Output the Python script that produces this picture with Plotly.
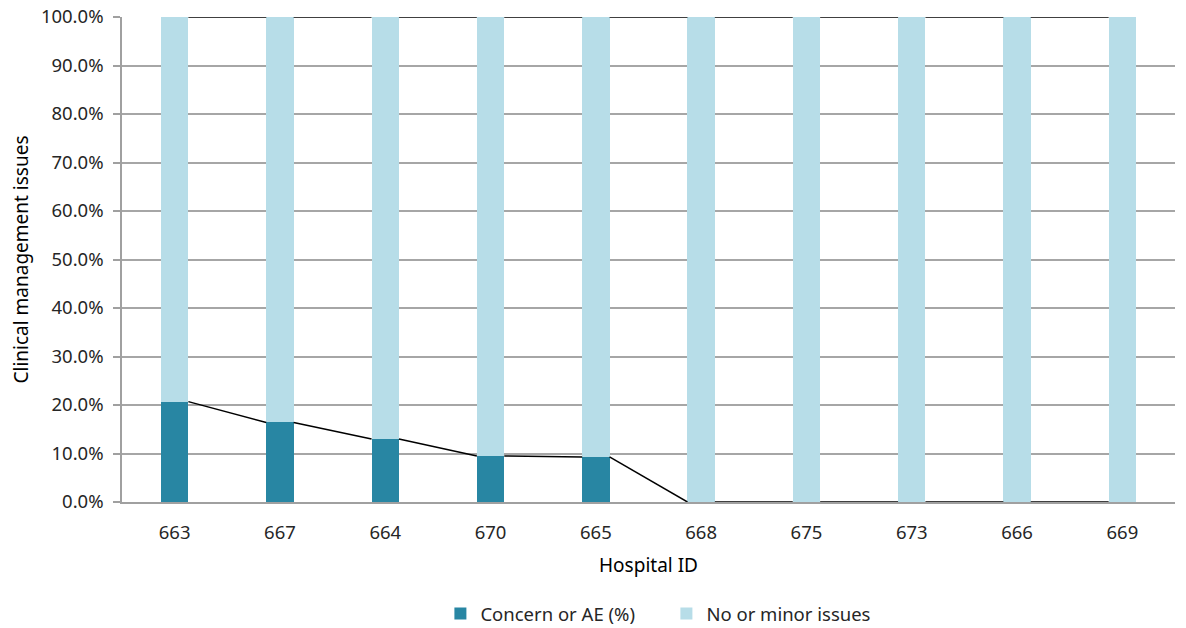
import plotly.graph_objects as go

hospitals = ["663", "667", "664", "670", "665", "668", "675", "673", "666", "669"]
concern = [0.207, 0.164, 0.130, 0.095, 0.093, 0.0, 0.0, 0.0, 0.0, 0.0]
no_minor = [1 - c for c in concern]

dark = "#2886A3"
light = "#B7DDE8"
bar_w = 0.26
font = "Noto Sans, Open Sans, sans-serif"

xs = list(range(len(hospitals)))

fig = go.Figure()
fig.add_bar(x=xs, y=concern, name="Concern or AE (%)", marker=dict(color=dark, line=dict(width=0)),
            width=bar_w)
fig.add_bar(x=xs, y=no_minor, name="No or minor issues", marker=dict(color=light, line=dict(width=0)),
            width=bar_w)

# series lines (connect tops of segments between adjacent bars)
totals = [c + n for c, n in zip(concern, no_minor)]
for series in (concern, totals):
    lx, ly = [], []
    for i in range(len(xs) - 1):
        lx += [xs[i] + bar_w / 2, xs[i + 1] - bar_w / 2, None]
        ly += [series[i], series[i + 1], None]
    fig.add_scatter(x=lx, y=ly, mode="lines", line=dict(color="black", width=1.5),
                    showlegend=False, hoverinfo="skip", cliponaxis=False)

fig.update_layout(
    barmode="stack",
    width=1178, height=620,
    margin=dict(l=114, r=11, t=9, b=126, autoexpand=False),
    paper_bgcolor="white", plot_bgcolor="white",
    font=dict(family=font, size=18.5, color="#262626"),
    legend=dict(orientation="h", x=0.517, xanchor="center", y=-0.231, yanchor="middle",
                font=dict(size=18.5), traceorder="normal", itemwidth=30,
                entrywidth=181, entrywidthmode="pixels"),
    xaxis=dict(tickmode="array", tickvals=xs, ticktext=hospitals, range=[-0.5, len(xs) - 0.5],
               showgrid=False, showline=True, linecolor="#A0A0A0", linewidth=1.5, ticks="",
               automargin=False, ticklabelstandoff=13, ticklabeloverflow="allow",
               title=dict(text="Hospital ID", font=dict(size=19, color="black"), standoff=16),
               zeroline=False),
    yaxis=dict(range=[0, 1], dtick=0.1, tickformat=".1%", showgrid=True, gridcolor="#A6A6A6",
               gridwidth=1.5, showline=True, linecolor="#A0A0A0", linewidth=1.5,
               ticks="outside", ticklen=7, tickcolor="#A0A0A0", tickwidth=1.5,
               automargin=False, ticklabelstandoff=6, ticklabeloverflow="allow",
               title=dict(text="Clinical management issues", font=dict(size=19, color="black"), standoff=21),
               zeroline=False),
)

fig.write_html("out.html")
